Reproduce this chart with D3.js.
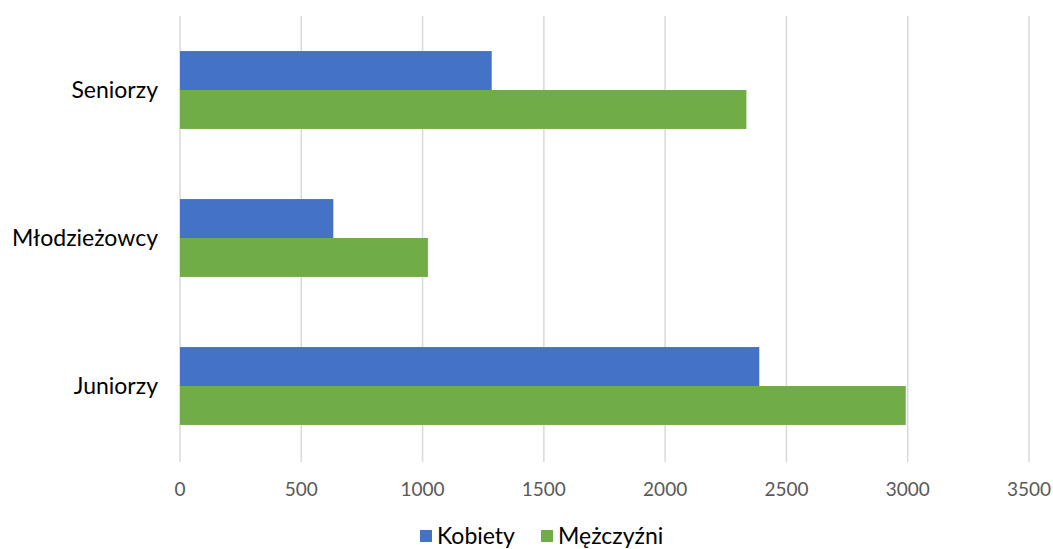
<!DOCTYPE html>
<html><head><meta charset="utf-8">
<script src="https://cdn.jsdelivr.net/npm/d3@7"></script>
<style>body{margin:0;background:#fff;} text{font-family:Lato,"Open Sans",sans-serif;}</style>
</head><body>
<svg id="c" width="1053" height="549"></svg>
<script>
const categories = ["Seniorzy", "Młodzieżowcy", "Juniorzy"];
const seriesNames = ["Kobiety", "Mężczyźni"];
const kobiety = [1285, 632, 2388];
const mezczyzni = [2335, 1022, 2992];
const tickValues = [0, 500, 1000, 1500, 2000, 2500, 3000, 3500];
const colors = ["#4472C4", "#70AD47"];

const svg = d3.select("#c");
const m = {left: 180, right: 24, top: 16, bottom: 89};
const W = 1053, H = 549;
const x = d3.scaleLinear().domain([0, 3500]).range([m.left, W - m.right]);
const y0 = d3.scaleBand().domain(categories).range([m.top, H - m.bottom]).padding(0);
const y1 = d3.scaleBand().domain(seriesNames).range([0, y0.bandwidth()]).paddingInner(0).paddingOuter(0.9);

// grid
svg.append("g").selectAll("line").data(tickValues).join("line")
  .attr("x1", d => x(d)).attr("x2", d => x(d))
  .attr("y1", m.top).attr("y2", H - m.bottom + 2)
  .attr("stroke", "#d9d9d9").attr("stroke-width", 1.5);

const vals = [kobiety, mezczyzni];
const g = svg.append("g");
categories.forEach((c, i) => {
  seriesNames.forEach((s, j) => {
    g.append("rect")
      .attr("x", x(0)).attr("y", y0(c) + y1(s))
      .attr("width", x(vals[j][i]) - x(0)).attr("height", y1.bandwidth())
      .attr("fill", colors[j]);
  });
});

// x tick labels
svg.append("g").selectAll("text").data(tickValues).join("text")
  .attr("x", d => x(d)).attr("y", 496).attr("text-anchor", "middle")
  .attr("font-size", 19).attr("fill", "#595959").text(d => d);

// category labels
svg.append("g").selectAll("text").data(categories).join("text")
  .attr("x", 158).attr("y", d => y0(d) + y0.bandwidth() / 2).attr("dy", "0.35em")
  .attr("text-anchor", "end").attr("font-size", 23).attr("fill", "#000").text(d => d);

// legend
const leg = svg.append("g");
const legX = [420, 541];
seriesNames.forEach((s, j) => {
  leg.append("rect").attr("x", legX[j]).attr("y", 530).attr("width", 12).attr("height", 12).attr("fill", colors[j]);
  leg.append("text").attr("x", legX[j] + 17).attr("y", 536).attr("dy", "0.35em")
    .attr("font-size", 23).attr("fill", "#000").text(s);
});
</script>
</body></html>
